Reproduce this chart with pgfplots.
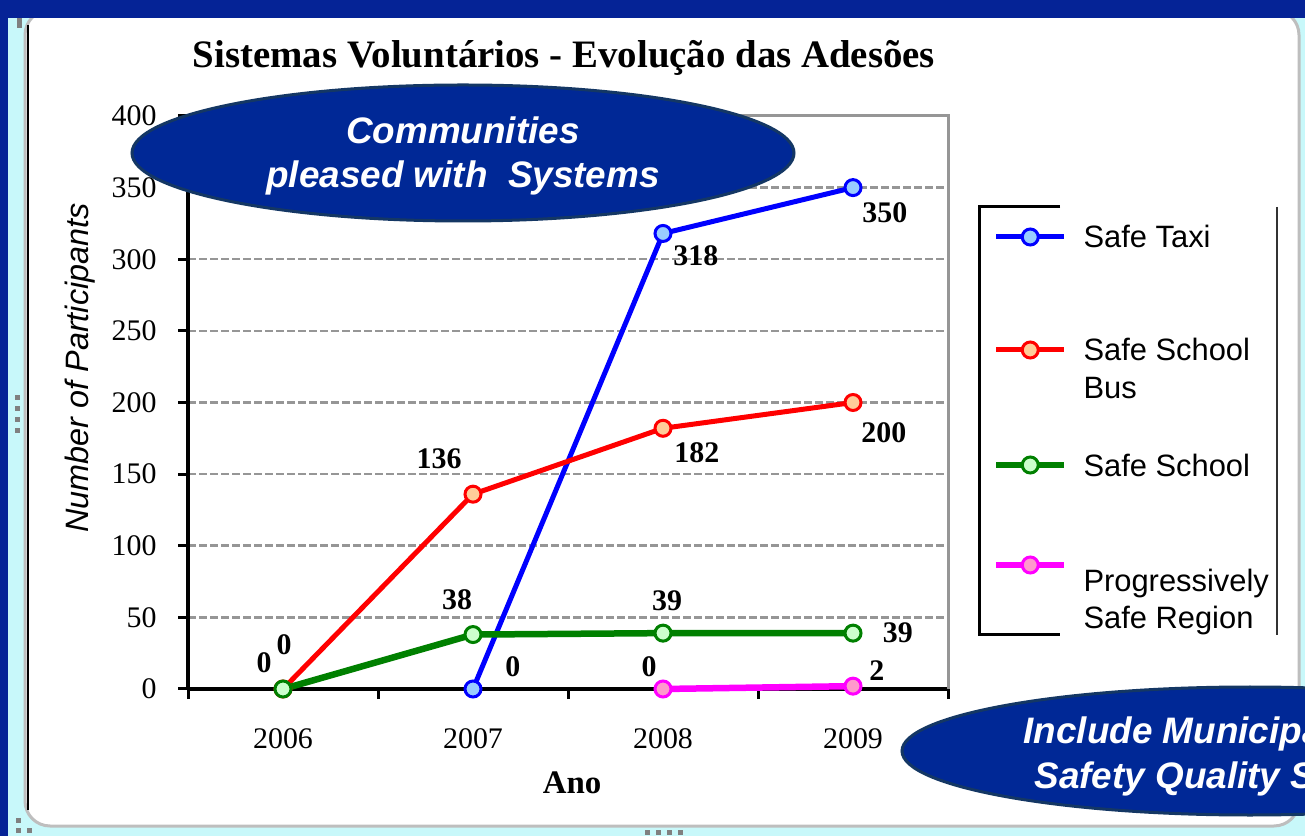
\documentclass[border=0pt]{standalone}
\usepackage{fontspec}
\setmainfont{Liberation Serif}
\newfontfamily\arial{Liberation Sans}
\usepackage{pgfplots}
\pgfplotsset{compat=1.18}
\usepackage{pgfplotstable}

\definecolor{frameblue}{RGB}{5,35,150}
\definecolor{paleblue}{RGB}{200,248,250}
\definecolor{panelgray}{RGB}{190,190,190}
\definecolor{ellfill}{RGB}{0,40,150}
\definecolor{elldraw}{RGB}{20,55,100}
\definecolor{gridgray}{RGB}{150,150,150}
\definecolor{taxiblue}{RGB}{0,0,255}
\definecolor{taxifill}{RGB}{153,204,255}
\definecolor{busred}{RGB}{255,0,0}
\definecolor{busfill}{RGB}{255,204,153}
\definecolor{schgreen}{RGB}{0,128,0}
\definecolor{schfill}{RGB}{204,255,204}
\definecolor{regmag}{RGB}{255,0,255}
\definecolor{regfill}{RGB}{255,153,204}

\pgfplotsset{
  legimg/.style={legend image code/.code={\path[draw=none, fill=none] (0bp,-#1) rectangle (68bp,21bp);
    \draw[mark repeat=2, mark phase=2, ##1] plot coordinates {(0bp,11bp) (34bp,11bp) (68bp,11bp)};}},
}

\pgfplotstableread{
x y dx dy lab
1 0 40 22 0
2 318 33 -22 318
3 350 32 -25 350
}\taxidata
\pgfplotstableread{
x y dx dy lab
0 0 -19 26 0
1 136 -34 36 136
2 182 34 -25 182
3 200 31 -30 200
}\busdata
\pgfplotstableread{
x y dx dy lab
0 0 1 44 0
1 38 -16 35 38
2 39 4 33 39
3 39 45 0 39
}\schooldata
\pgfplotstableread{
x y dx dy lab
2 0 -14 22 0
3 2 24 16 2
}\regiondata

\begin{document}
\begin{tikzpicture}[x=1bp,y=1bp]
\useasboundingbox (0,0) rectangle (1305,836);
\clip (0,0) rectangle (1305,836);
% background frame
\fill[frameblue] (0,0) rectangle (1305,836);
\fill[paleblue] (8,0) rectangle (1305,818);
\draw[panelgray, line width=3bp, fill=white, rounded corners=25bp] (25,10) rectangle (1299,826);
\fill[frameblue] (0,818) rectangle (1305,836);
\draw[black, line width=1.5bp] (28,811) -- (28,26);
\foreach \yy in {395,406,417,428} {\fill[gray] (15,836-\yy) rectangle (20,831-\yy);}
\fill[gray] (16,18) rectangle (21,13);
\fill[gray] (16,8) rectangle (21,3);
\fill[gray] (27,8) rectangle (32,3);
\foreach \xx in {645,656,667,678} {\fill[gray] (\xx,6) rectangle (\xx+5,1);}
\fill[gray] (17,818) rectangle (22,808);

\begin{axis}[
  at={(188bp,147bp)}, anchor=south west,
  scale only axis, width=760bp, height=573bp,
  xmin=-0.5, xmax=3.5, ymin=0, ymax=400,
  axis lines*=left,
  axis line style={black, line width=4bp},
  ytick={0,50,...,400},
  xtick={-0.5,0.5,1.5,2.5,3.5},
  x tick label as interval,
  xticklabels={2006,2007,2008,2009},
  tick align=outside,
  major tick length=10bp,
  tick style={black, line width=3bp},
  ymajorgrids,
  major grid style={gridgray, line width=2.5bp, dash pattern=on 8bp off 3bp},
  /pgf/number format/assume math mode=true,
  ticklabel style={font=\fontsize{30}{32}\selectfont},
  yticklabel style={xshift=-18bp},
  xticklabel style={yshift=-26bp},
  clip=false,
  legend style={at={(1.05921,0.80628)}, anchor=north west, draw=none, fill=none,
    inner sep=0pt, outer sep=0pt, row sep=0pt, column sep=16bp,
    font=\arial\fontsize{31}{38}\selectfont, cells={anchor=base west},
    nodes={inner sep=0pt}},
  nodes near coords,
  point meta=explicit symbolic,
  visualization depends on={\thisrow{dx}\as\dx},
  visualization depends on={\thisrow{dy}\as\dy},
  nodes near coords style={anchor=center, xshift=\dx pt, yshift=\dy pt,
    font=\bfseries\fontsize{30}{32}\selectfont, text=black, inner sep=0pt},
]
\draw[gridgray, line width=3bp] (rel axis cs:0,1) -- (rel axis cs:1,1) -- (rel axis cs:1,0);
\addplot[taxiblue, line width=5bp, mark=*, mark size=8bp,
  mark options={fill=taxifill, draw=taxiblue, line width=3bp}, legimg=92bp]
  table[x=x, y=y, meta=lab] {\taxidata};
\addlegendentry{\smash{Safe Taxi}}
\addplot[busred, line width=5bp, mark=*, mark size=8bp,
  mark options={fill=busfill, draw=busred, line width=3bp}, legimg=94bp]
  table[x=x, y=y, meta=lab] {\busdata};
\addlegendentry{\smash{\begin{tabular}[t]{@{}l@{}}Safe School\\Bus\end{tabular}}}
\addplot[schgreen, line width=6.5bp, mark=*, mark size=8bp,
  mark options={fill=schfill, draw=schgreen, line width=3bp}, legimg=79bp]
  table[x=x, y=y, meta=lab] {\schooldata};
\addlegendentry{\smash{Safe School}}
\addplot[regmag, line width=6.5bp, mark=*, mark size=8bp,
  mark options={fill=regfill, draw=regmag, line width=3bp}, legimg=21bp]
  table[x=x, y=y, meta=lab] {\regiondata};
\addlegendentry{\raisebox{-15bp}{\smash{\begin{tabular}[t]{@{}l@{}}Progressively\\Safe Region\end{tabular}}}}
\end{axis}

% legend bracket
\draw[black, line width=3bp] (1060,629) -- (979,629) -- (979,201) -- (1060,201);
\draw[black!80, line width=1.5bp] (1277,629) -- (1277,201);

% titles
\node[anchor=base, font=\bfseries\fontsize{39}{42}\selectfont] at (564,768) {Sistemas Voluntários - Evolução das Adesões};
\node[anchor=base, font=\bfseries\fontsize{33}{36}\selectfont] at (572,43) {Ano};
\node[rotate=90, font=\arial\itshape\fontsize{32.5}{36}\selectfont] at (80,468) {Number of Participants};

% ellipses
\draw[fill=ellfill, draw=elldraw, line width=3bp] (463,683) ellipse [x radius=331bp, y radius=68bp];
\node[text=white, align=center, font=\arial\bfseries\itshape\fontsize{37}{45}\selectfont] at (463,680) {Communities\\pleased with\ \ Systems};
\draw[fill=ellfill, draw=elldraw, line width=3bp] (1250,85) ellipse [x radius=348bp, y radius=64bp];
\node[anchor=base west, text=white, font=\arial\bfseries\itshape\fontsize{37}{45}\selectfont] at (1020,93) {Include Municipal};
\node[anchor=base west, text=white, font=\arial\bfseries\itshape\fontsize{37}{45}\selectfont] at (1031,48) {Safety Quality Systems};
\end{tikzpicture}
\end{document}
